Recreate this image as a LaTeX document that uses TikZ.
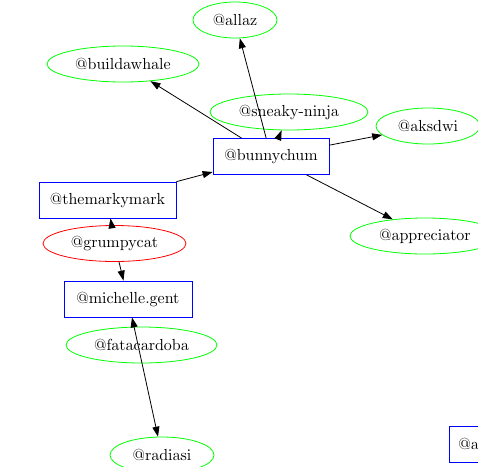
\documentclass[tikz,border=0pt]{standalone}
\usetikzlibrary{shapes.geometric,arrows.meta}
\font\tagfont=cmr10 at 16pt
\begin{document}
\begin{tikzpicture}[x=1pt, y=-1pt, >={Triangle[length=10pt,width=7pt]}, line width=0.8pt,
  every node/.style={font=\tagfont, inner sep=0pt},
  follower/.style={draw=green, ellipse, minimum height=36pt},
  account/.style={draw=blue, rectangle, minimum height=36pt},
  origin/.style={draw=red, ellipse, minimum height=36pt}]
\useasboundingbox (0,0) rectangle (478,466);
\node[follower, minimum width=84pt] (allaz) at (235,20) {@allaz};
\node[follower, minimum width=152pt] (whale) at (123,64) {@buildawhale};
\node[follower, minimum width=158pt] (ninja) at (289,112) {@sneaky-ninja};
\node[follower, minimum width=104pt] (aksdwi) at (428,126) {@aksdwi};
\node[account, minimum width=116pt] (bunny) at (271,156.5) {@bunnychum};
\node[account, minimum width=137pt] (marky) at (107.5,200) {@themarkymark};
\node[follower, minimum width=150pt] (appr) at (425,236) {@appreciator};
\node[origin, minimum width=143pt] (grumpy) at (114.5,243.5) {@grumpycat};
\node[account, minimum width=128pt] (michelle) at (128,299) {@michelle.gent};
\node[follower, minimum width=151pt] (fata) at (141.5,345) {@fatacardoba};
\node[follower, minimum width=104pt] (radiasi) at (162,455) {@radiasi};
\node[account, anchor=west, text width=50pt, inner xsep=9pt] (partial) at (449,444) {@a};
\draw[->] (bunny) -- (allaz);
\draw[->] (bunny) -- (whale);
\draw[->] (bunny) -- (ninja);
\draw[->] (bunny) -- (aksdwi);
\draw[->] (bunny) -- (appr);
\draw[->] (marky) -- (bunny);
\draw[->] (grumpy) -- (marky);
\draw[->] (grumpy) -- (michelle);
\draw[<->] (michelle) -- (radiasi);
\end{tikzpicture}
\end{document}
